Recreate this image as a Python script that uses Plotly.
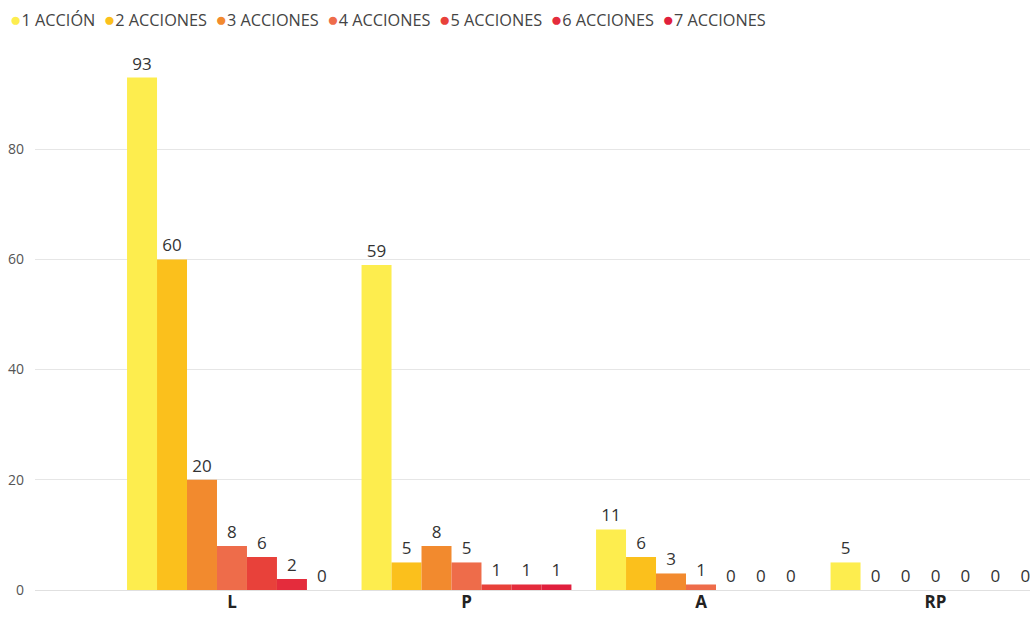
import plotly.graph_objects as go

categories = ["L", "P", "A", "RP"]
series_names = ["1 ACCIÓN", "2 ACCIONES", "3 ACCIONES", "4 ACCIONES",
                "5 ACCIONES", "6 ACCIONES", "7 ACCIONES"]
series_values = [
    [93, 59, 11, 5],
    [60, 5, 6, 0],
    [20, 8, 3, 0],
    [8, 5, 1, 0],
    [6, 1, 0, 0],
    [2, 1, 0, 0],
    [0, 1, 0, 0],
]
colors = ["#FDED4E", "#FBC01C", "#F28A2E", "#EE6C4A", "#E8413A", "#E42C3C", "#E01F3D"]
y_ticks = [0, 20, 40, 60, 80]

FONT = "Open Sans"

fig = go.Figure()
for name, vals, col in zip(series_names, series_values, colors):
    fig.add_trace(go.Bar(
        x=categories, y=vals, name=name,
        marker=dict(color=col, line=dict(width=0)),
        text=[str(v) for v in vals], textposition="outside",
        textfont=dict(family=FONT, size=17, color="#333333"),
        cliponaxis=False, showlegend=False,
    ))

# compact legend row: colored dot followed by series name
legend_html = "&nbsp; ".join(
    f'<span style="color:{c};font-size:19px">●</span>{n}'
    for n, c in zip(series_names, colors)
)
fig.add_annotation(
    text=legend_html, xref="paper", yref="paper",
    x=-27 / 995, y=1 + 31 / 540, xanchor="left", yanchor="middle",
    showarrow=False, font=dict(family=FONT, size=16.3, color="#444444"),
)

fig.update_layout(
    width=1030, height=617,
    margin=dict(l=35, r=0, t=50, b=27),
    paper_bgcolor="white", plot_bgcolor="white",
    barmode="group", bargap=0.105, bargroupgap=0,
    font=dict(family=FONT),
    uniformtext=dict(mode=False),
)
fig.update_xaxes(
    type="category", range=[-0.84, 3.403],
    showgrid=False, showline=False, zeroline=False, ticks="",
    tickfont=dict(family=FONT, size=17, color="#222222", weight="bold"),
)
fig.update_yaxes(
    range=[0, 98], tickvals=y_ticks, showgrid=True, gridcolor="#E6E6E6",
    gridwidth=1, zeroline=True, zerolinecolor="#E0E0E0", zerolinewidth=1,
    showline=False, ticks="", ticklabelstandoff=10,
    tickfont=dict(family=FONT, size=14, color="#555555"),
)

fig.write_html("out.html")
